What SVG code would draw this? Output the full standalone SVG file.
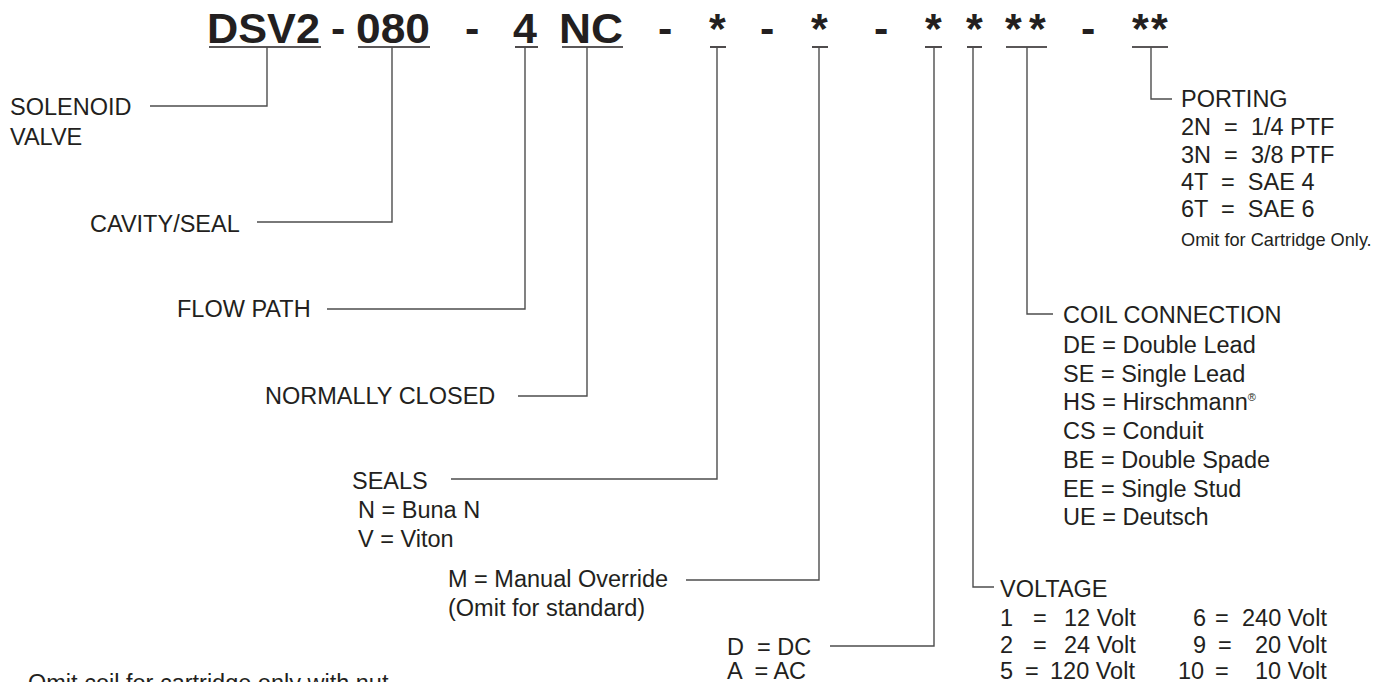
<svg xmlns="http://www.w3.org/2000/svg" width="1388" height="682" viewBox="0 0 1388 682">
<style>
.hdr{font-family:"Liberation Sans",Arial,sans-serif;font-weight:bold;font-size:43px;fill:#231f20}
.lbl{font-family:"Liberation Sans",Arial,sans-serif;font-size:23.5px;fill:#231f20;white-space:pre}
.sm{font-size:18.2px}
.ul{stroke:#231f20;stroke-width:1.6}
.conn{fill:none;stroke:#4d4d4d;stroke-width:1.4}
</style>
<rect width="1388" height="682" fill="#fff"/>
<g id="code">
<text class="hdr" x="207" y="43" textLength="113" lengthAdjust="spacingAndGlyphs">DSV2</text>
<text class="hdr" x="331" y="43">-</text>
<text class="hdr" x="356" y="43" textLength="74" lengthAdjust="spacingAndGlyphs">080</text>
<text class="hdr" x="465" y="43">-</text>
<text class="hdr" x="513" y="43">4</text>
<text class="hdr" x="559" y="43" textLength="64" lengthAdjust="spacingAndGlyphs">NC</text>
<text class="hdr" x="658" y="43">-</text>
<text class="hdr" x="709" y="43">*</text>
<text class="hdr" x="760" y="43">-</text>
<text class="hdr" x="811" y="43">*</text>
<text class="hdr" x="874" y="43">-</text>
<text class="hdr" x="925" y="43">*</text>
<text class="hdr" x="966" y="43">*</text>
<text class="hdr" x="1005" y="43">*</text>
<text class="hdr" x="1029" y="43">*</text>
<text class="hdr" x="1081" y="43">-</text>
<text class="hdr" x="1132" y="43">*</text>
<text class="hdr" x="1151" y="43">*</text>
<line class="ul" x1="209" y1="47" x2="321" y2="47"/>
<line class="ul" x1="358" y1="47" x2="430" y2="47"/>
<line class="ul" x1="515" y1="47" x2="538" y2="47"/>
<line class="ul" x1="562" y1="47" x2="623" y2="47"/>
<line class="ul" x1="710" y1="47" x2="726" y2="47"/>
<line class="ul" x1="812" y1="47" x2="828" y2="47"/>
<line class="ul" x1="925" y1="47" x2="942" y2="47"/>
<line class="ul" x1="967" y1="47" x2="982" y2="47"/>
<line class="ul" x1="1006" y1="47" x2="1047" y2="47"/>
<line class="ul" x1="1132" y1="47" x2="1168" y2="47"/>
</g>
<g id="connectors">
<path class="conn" d="M267,47 V106 H150"/>
<path class="conn" d="M392,47 V222 H257"/>
<path class="conn" d="M525,47 V309 H327"/>
<path class="conn" d="M587,47 V396 H518"/>
<path class="conn" d="M717,47 V479 H451"/>
<path class="conn" d="M819,47 V580 H686"/>
<path class="conn" d="M934,47 V646 H830"/>
<path class="conn" d="M973,47 V587 H994"/>
<path class="conn" d="M1027,47 V314 H1053"/>
<path class="conn" d="M1151,47 V99 H1172"/>
</g>
<g id="solenoid-valve">
<text class="lbl" x="10" y="115">SOLENOID</text>
<text class="lbl" x="10" y="145">VALVE</text>
</g>
<g id="cavity-seal"><text class="lbl" x="90" y="232">CAVITY/SEAL</text></g>
<g id="flow-path"><text class="lbl" x="177" y="317">FLOW PATH</text></g>
<g id="normally-closed"><text class="lbl" x="265" y="404">NORMALLY CLOSED</text></g>
<g id="seals">
<text class="lbl" x="352" y="489">SEALS</text>
<text class="lbl" x="358" y="518">N = Buna N</text>
<text class="lbl" x="358" y="547">V = Viton</text>
</g>
<g id="manual-override">
<text class="lbl" x="448" y="587">M = Manual Override</text>
<text class="lbl" x="448" y="616">(Omit for standard)</text>
</g>
<g id="current">
<text class="lbl" x="727" y="655">D  = DC</text>
<text class="lbl" x="727" y="679">A  = AC</text>
</g>
<g id="voltage">
<text class="lbl" x="1000" y="597">VOLTAGE</text>
<text class="lbl" y="626"><tspan x="1000">1</tspan><tspan x="1033">=</tspan><tspan x="1064">12 Volt</tspan><tspan x="1193">6</tspan><tspan x="1215">=</tspan><tspan x="1242">240 Volt</tspan></text>
<text class="lbl" y="653"><tspan x="1000">2</tspan><tspan x="1033">=</tspan><tspan x="1064">24 Volt</tspan><tspan x="1193">9</tspan><tspan x="1218">=</tspan><tspan x="1255">20 Volt</tspan></text>
<text class="lbl" y="679"><tspan x="1000">5</tspan><tspan x="1025">=</tspan><tspan x="1050">120 Volt</tspan><tspan x="1178">10</tspan><tspan x="1215">=</tspan><tspan x="1255">10 Volt</tspan></text>
</g>
<g id="coil-connection">
<text class="lbl" x="1063" y="323">COIL CONNECTION</text>
<text class="lbl" x="1063" y="353">DE = Double Lead</text>
<text class="lbl" x="1063" y="382">SE = Single Lead</text>
<text class="lbl" x="1063" y="410">HS = Hirschmann<tspan font-size="11" dy="-9">®</tspan></text>
<text class="lbl" x="1063" y="439">CS = Conduit</text>
<text class="lbl" x="1063" y="468">BE = Double Spade</text>
<text class="lbl" x="1063" y="497">EE = Single Stud</text>
<text class="lbl" x="1063" y="525">UE = Deutsch</text>
</g>
<g id="porting">
<text class="lbl" x="1181" y="107">PORTING</text>
<text class="lbl" x="1181" y="135">2N  =  1/4 PTF</text>
<text class="lbl" x="1181" y="163">3N  =  3/8 PTF</text>
<text class="lbl" x="1181" y="190">4T  =  SAE 4</text>
<text class="lbl" x="1181" y="217">6T  =  SAE 6</text>
<text class="lbl sm" x="1181" y="246">Omit for Cartridge Only.</text>
</g>
<g id="note"><text class="lbl" x="28" y="691">Omit coil for cartridge only with nut</text></g>
</svg>
